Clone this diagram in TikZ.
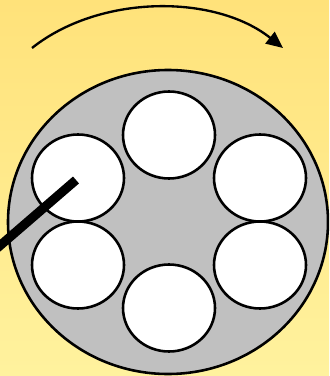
\documentclass[tikz,border=0pt]{standalone}
\usetikzlibrary{arrows.meta}

\definecolor{bgtop}{RGB}{255,226,122}
\definecolor{bgbottom}{RGB}{255,242,158}
\definecolor{drumgray}{RGB}{192,192,192}

\begin{document}
\begin{tikzpicture}[x=0.03cm, y=-0.03cm,
    drum/.style={draw=black, fill=drumgray, line width=2.2pt},
    hole/.style={draw=black, fill=white, line width=2.2pt},
    rod/.style={line width=7.8pt},
    turn/.style={line width=2pt, -{Triangle[length=0.5cm, width=0.44cm]}}]
  % Background
  \fill[top color=bgtop, bottom color=bgbottom] (0,0) rectangle (329,376);
  \useasboundingbox (0,0) rectangle (329,376);
  \clip (0,0) rectangle (329,376);

  % Key points
  \coordinate (centre)    at (168,222);
  \coordinate (turnstart) at (32,48);
  \coordinate (turnend)   at (283,48);
  \coordinate (rodtip)    at (76,180);
  \coordinate (rodbase)   at (-12,256);

  % Rotation arrow
  \draw[turn] (turnstart) .. controls (100,-6) and (215,-6) .. (turnend);

  % Drum
  \draw[drum] (centre) ellipse [x radius=160, y radius=152];

  % Chambers
  \draw[hole] (169,135) ellipse [x radius=46, y radius=43.5];
  \draw[hole] (260,178) ellipse [x radius=46, y radius=43.5];
  \draw[hole] (260,265) ellipse [x radius=46, y radius=43.5];
  \draw[hole] (169,308) ellipse [x radius=46, y radius=43.5];
  \draw[hole] (78,265)  ellipse [x radius=46, y radius=43.5];
  \draw[hole] (78,178)  ellipse [x radius=46, y radius=43.5];

  % Rod
  \draw[rod] (rodtip) -- (rodbase);
\end{tikzpicture}
\end{document}
